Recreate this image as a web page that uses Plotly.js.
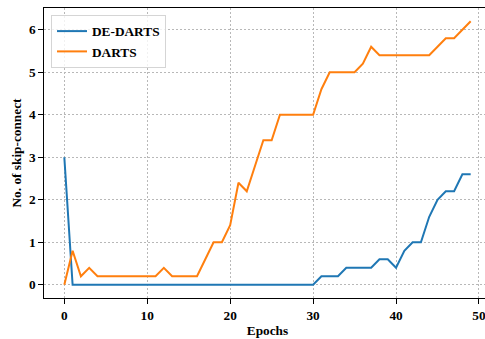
<!DOCTYPE html>
<html>
<head>
<meta charset="utf-8">
<script src="https://cdn.plot.ly/plotly-3.0.1.min.js"></script>
<style>
html, body { margin: 0; padding: 0; overflow: hidden; background: #fff; }
#chart { width: 500px; height: 339px; }
</style>
</head>
<body>
<div id="chart"></div>
<script>
const epochs = [0,1,2,3,4,5,6,7,8,9,10,11,12,13,14,15,16,17,18,19,20,21,22,23,24,25,26,27,28,29,30,31,32,33,34,35,36,37,38,39,40,41,42,43,44,45,46,47,48,49];
const deDarts = [3,0,0,0,0,0,0,0,0,0,0,0,0,0,0,0,0,0,0,0,0,0,0,0,0,0,0,0,0,0,0,0.2,0.2,0.2,0.4,0.4,0.4,0.4,0.6,0.6,0.4,0.8,1.0,1.0,1.6,2.0,2.2,2.2,2.6,2.6];
const darts = [0,0.8,0.2,0.4,0.2,0.2,0.2,0.2,0.2,0.2,0.2,0.2,0.4,0.2,0.2,0.2,0.2,0.6,1.0,1.0,1.4,2.4,2.2,2.8,3.4,3.4,4.0,4.0,4.0,4.0,4.0,4.6,5.0,5.0,5.0,5.0,5.2,5.6,5.4,5.4,5.4,5.4,5.4,5.4,5.4,5.6,5.8,5.8,6.0,6.2];
const seriesNames = ['DE-DARTS', 'DARTS'];
const xTicks = [0,10,20,30,40,50];
const yTicks = [0,1,2,3,4,5,6];
const xLabel = 'Epochs';
const yLabel = 'No. of skip-connect';

const font = { family: 'Liberation Serif, Times New Roman, serif', size: 13.3, color: '#000', weight: 'bold' };

const traces = [
  { x: epochs, y: deDarts, name: seriesNames[0], type: 'scatter', mode: 'lines',
    line: { color: '#1f77b4', width: 2 } },
  { x: epochs, y: darts, name: seriesNames[1], type: 'scatter', mode: 'lines',
    line: { color: '#ff7f0e', width: 2 } }
];

const axisCommon = {
  showline: true, linecolor: '#000', linewidth: 1.1, mirror: true,
  ticks: 'outside', ticklen: 4.5, tickwidth: 1, tickcolor: '#000',
  showgrid: true, gridcolor: '#b8b8b8', griddash: '2px,2px', gridwidth: 1,
  zeroline: false, tickfont: font
};

const layout = {
  width: 500, height: 339,
  margin: { l: 44, r: 9, t: 8, b: 41 },
  paper_bgcolor: '#fff', plot_bgcolor: '#fff',
  font: font,
  showlegend: true,
  legend: {
    x: 0.0157, y: 0.976, xanchor: 'left', yanchor: 'top',
    bgcolor: 'rgba(255,255,255,0.8)', bordercolor: '#d5d5d5', borderwidth: 1,
    font: font, tracegroupgap: 0
  },
  xaxis: Object.assign({}, axisCommon, {
    range: [-2.45, 51.45], tickvals: xTicks, ticktext: xTicks.map(String),
    title: { text: xLabel, font: font, standoff: 4 }
  }),
  yaxis: Object.assign({}, axisCommon, {
    range: [-0.31, 6.51], tickvals: yTicks, ticktext: yTicks.map(String),
    title: { text: yLabel, font: font, standoff: 4 }
  })
};

Plotly.newPlot('chart', traces, layout, { displayModeBar: false, staticPlot: true });
</script>
</body>
</html>
